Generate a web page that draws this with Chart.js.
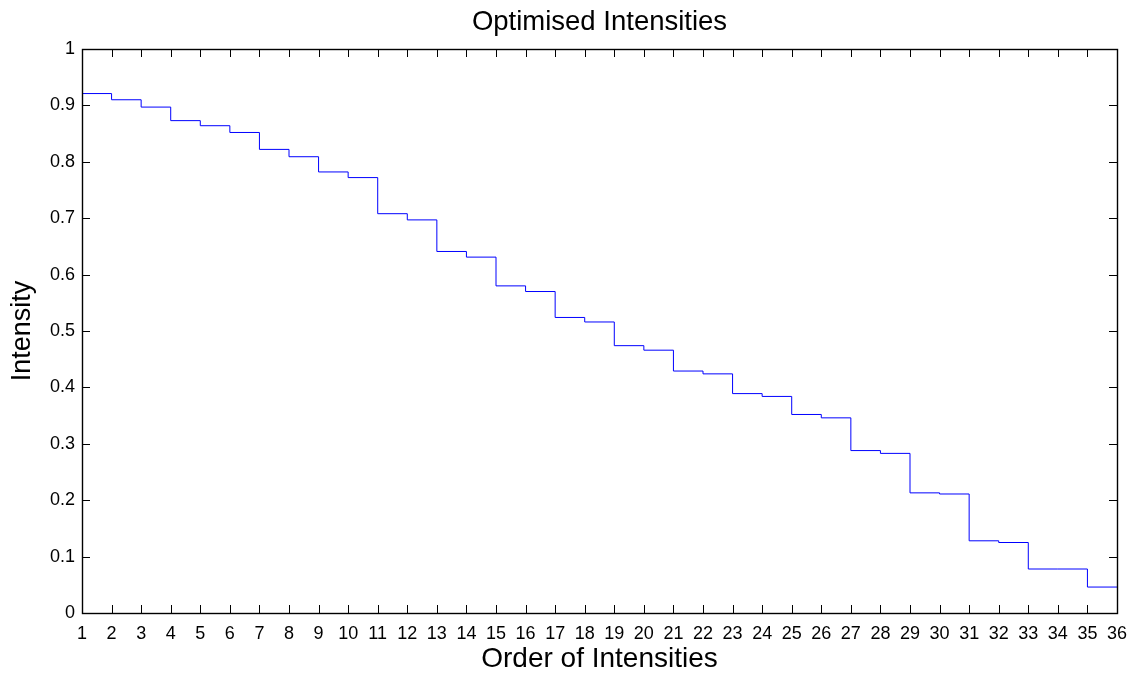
<!DOCTYPE html>
<html>
<head>
<meta charset="utf-8">
<title>Optimised Intensities</title>
<script src="https://cdn.jsdelivr.net/npm/chart.js@4.4.1/dist/chart.umd.min.js"></script>
<style>
  html, body { margin: 0; padding: 0; background: #fff; }
  canvas { display: block; }
</style>
</head>
<body>
<canvas id="grafico" width="1135" height="673"></canvas>
<script>
// ordem das intensidades (eixo x)
let ordem = [1, 2, 3, 4, 5, 6, 7, 8, 9, 10, 11, 12, 13, 14, 15, 16, 17, 18,
             19, 20, 21, 22, 23, 24, 25, 26, 27, 28, 29, 30, 31, 32, 33, 34, 35, 36]
// intensidades otimizadas
let intensidade = [0.921, 0.910, 0.897, 0.873, 0.864, 0.852, 0.822, 0.809, 0.782, 0.772,
                   0.708, 0.697, 0.641, 0.631, 0.580, 0.570, 0.524, 0.516, 0.474, 0.466,
                   0.429, 0.424, 0.389, 0.384, 0.352, 0.346, 0.288, 0.283, 0.213, 0.211,
                   0.128, 0.125, 0.078, 0.078, 0.046, 0.046]
// rótulos dos eixos
let xTicks = ordem
let yTicks = [0, 0.1, 0.2, 0.3, 0.4, 0.5, 0.6, 0.7, 0.8, 0.9, 1]
let titulo = 'Optimised Intensities'

let fonte = 'Liberation Sans, Arial, Helvetica, sans-serif'

let pontos = ordem.map(function (o, i) { return { x: o, y: intensidade[i] } })

//plugin para desenhar a caixa, os ticks para dentro (estilo matlab) e o título centrado no gráfico
let caixa = {
  id: 'caixa',
  afterDraw: function (chart) {
    let ctx = chart.ctx
    let a = chart.chartArea
    let sx = chart.scales.x
    let sy = chart.scales.y
    let tam = 8
    ctx.save()
    ctx.strokeStyle = '#000'
    ctx.lineWidth = 1
    ctx.beginPath()
    xTicks.forEach(function (v) {
      let px = Math.round(sx.getPixelForValue(v)) + 0.5
      ctx.moveTo(px, a.bottom); ctx.lineTo(px, a.bottom - tam)
      ctx.moveTo(px, a.top); ctx.lineTo(px, a.top + tam)
    })
    yTicks.forEach(function (v) {
      let py = Math.round(sy.getPixelForValue(v)) + 0.5
      ctx.moveTo(a.left, py); ctx.lineTo(a.left + tam, py)
      ctx.moveTo(a.right, py); ctx.lineTo(a.right - tam, py)
    })
    ctx.stroke()
    ctx.lineWidth = 1.4
    ctx.strokeRect(Math.round(a.left) + 0.5, Math.round(a.top) + 0.5,
                   Math.round(a.right - a.left), Math.round(a.bottom - a.top))
    //título
    ctx.fillStyle = '#000'
    ctx.font = '27.5px ' + fonte
    ctx.textAlign = 'center'
    ctx.textBaseline = 'alphabetic'
    ctx.fillText(titulo, (a.left + a.right) / 2, 30)
    ctx.restore()
  }
}

let grafico = new Chart(document.getElementById('grafico'), {
  type: 'line',
  data: {
    datasets: [{
      data: pontos,
      stepped: true,
      borderColor: '#0000ff',
      borderWidth: 1,
      pointRadius: 0,
      fill: false
    }]
  },
  options: {
    responsive: false,
    animation: false,
    devicePixelRatio: 1,
    layout: { padding: { left: 0, right: 18, top: 49, bottom: 0 } },
    plugins: {
      legend: { display: false },
      tooltip: { enabled: false },
      title: { display: false }
    },
    scales: {
      x: {
        type: 'linear',
        min: 1,
        max: 36,
        afterFit: function (s) { s.height = 60; s.paddingLeft = 0; s.paddingRight = 0 },
        grid: { display: false, drawTicks: false },
        border: { display: false },
        afterBuildTicks: function (s) { s.ticks = xTicks.map(function (v) { return { value: v } }) },
        ticks: {
          color: '#000',
          font: { family: fonte, size: 18 },
          padding: 10,
          maxRotation: 0,
          autoSkip: false
        },
        title: {
          display: true,
          text: 'Order of Intensities',
          color: '#000',
          font: { family: fonte, size: 28, lineHeight: 1 },
          padding: { top: 0, bottom: 0 }
        }
      },
      y: {
        type: 'linear',
        min: 0,
        max: 1,
        afterFit: function (s) { s.width = 82 },
        grid: { display: false, drawTicks: false },
        border: { display: false },
        afterBuildTicks: function (s) { s.ticks = yTicks.map(function (v) { return { value: v } }) },
        ticks: {
          color: '#000',
          font: { family: fonte, size: 18 },
          padding: 7,
          autoSkip: false,
          callback: function (v) { return String(Number(v.toFixed(1))) }
        },
        title: {
          display: true,
          text: 'Intensity',
          color: '#000',
          font: { family: fonte, size: 27 },
          padding: { top: 6, bottom: 0 }
        }
      }
    }
  },
  plugins: [caixa]
})
</script>
</body>
</html>
